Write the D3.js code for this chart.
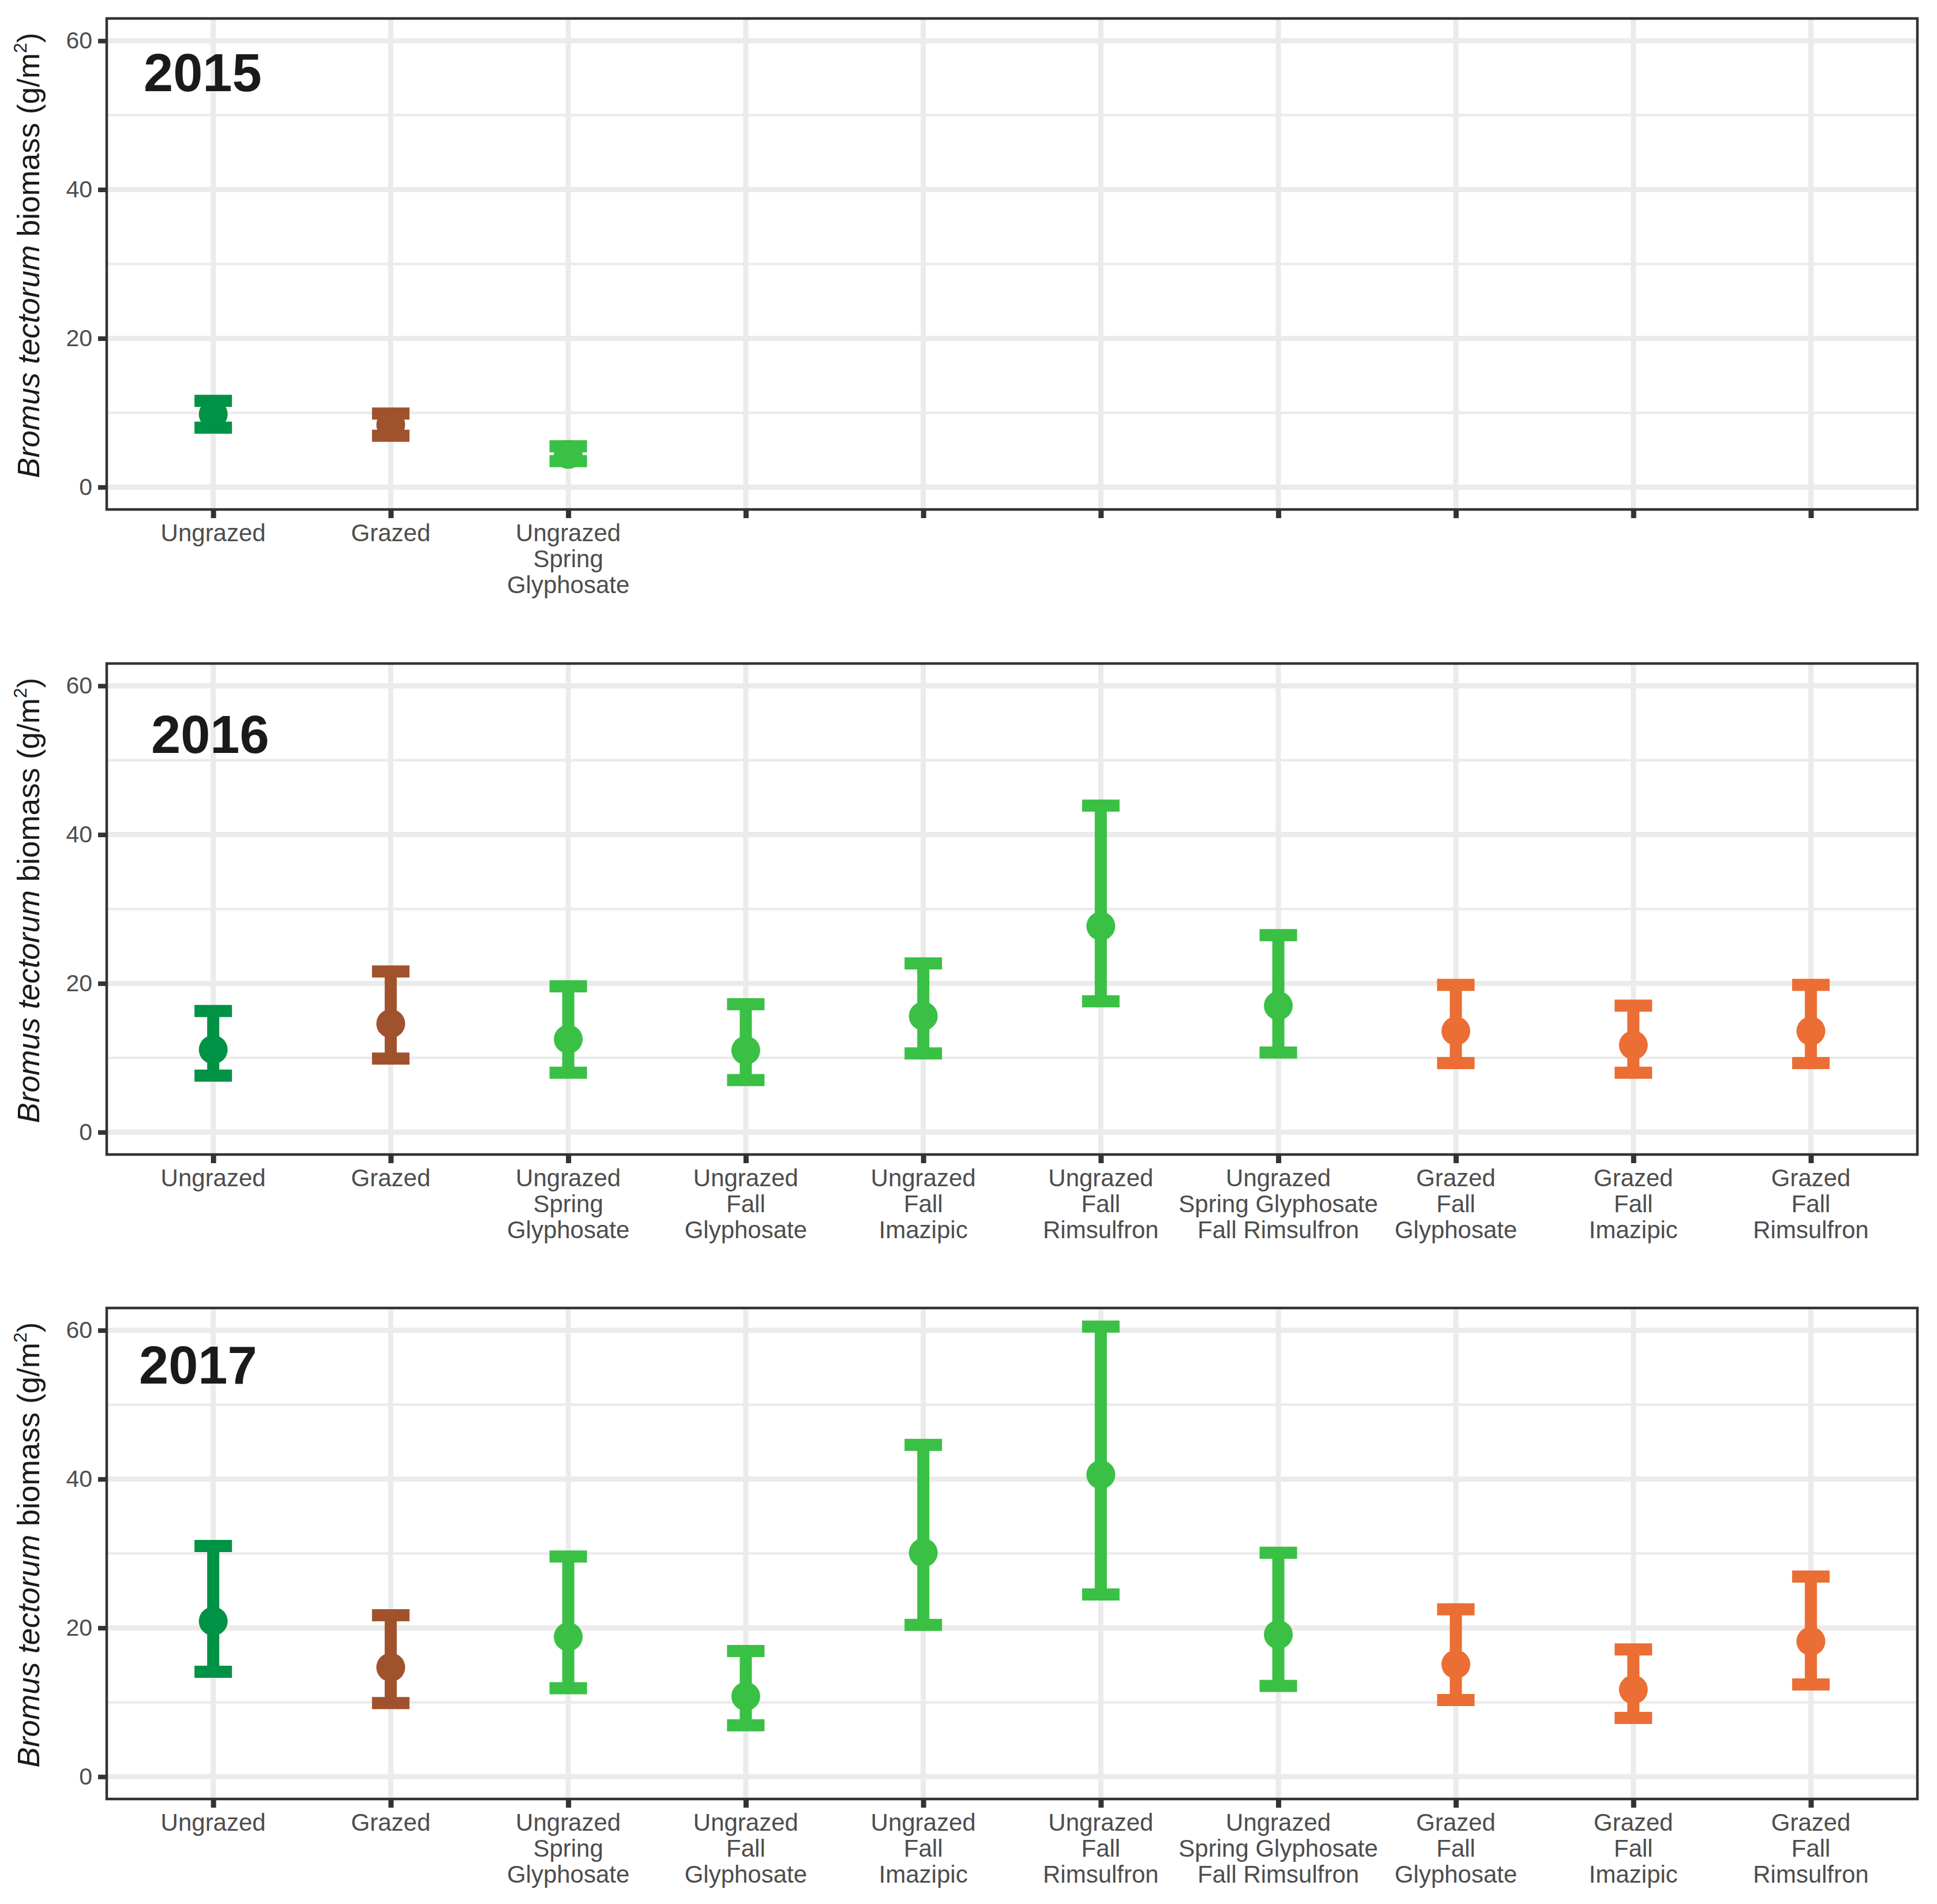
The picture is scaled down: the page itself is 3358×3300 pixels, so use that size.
<!DOCTYPE html>
<html>
<head>
<meta charset="utf-8">
<script src="https://cdn.jsdelivr.net/npm/d3@7"></script>
<style>
  body { margin: 0; background: #fff; }
  text { font-family: "Liberation Sans", Arial, sans-serif; }
</style>
</head>
<body>
<svg id="chart" width="3358" height="3300"></svg>
<script>
// treatments, in plotting order
var categories = [
  ["Ungrazed"],
  ["Grazed"],
  ["Ungrazed", "Spring", "Glyphosate"],
  ["Ungrazed", "Fall", "Glyphosate"],
  ["Ungrazed", "Fall", "Imazipic"],
  ["Ungrazed", "Fall", "Rimsulfron"],
  ["Ungrazed", "Spring Glyphosate", "Fall Rimsulfron"],
  ["Grazed", "Fall", "Glyphosate"],
  ["Grazed", "Fall", "Imazipic"],
  ["Grazed", "Fall", "Rimsulfron"]
];
var groups = ["ungrazed", "grazed", "ungrazedTrt", "ungrazedTrt", "ungrazedTrt",
  "ungrazedTrt", "ungrazedTrt", "grazedTrt", "grazedTrt", "grazedTrt"];
var years = ["2015", "2016", "2017"];
var yTicks = [0, 20, 40, 60];

// means and interval limits (g/m2); 2015 has only the first three treatments
var mean2015 = [9.8, 8.4, 4.4];
var low2015 = [8.0, 6.9, 3.5];
var high2015 = [11.6, 9.9, 5.5];

var mean2016 = [11.1, 14.6, 12.5, 11.0, 15.6, 27.7, 17.0, 13.6, 11.7, 13.6];
var low2016 = [7.6, 9.9, 8.0, 7.0, 10.6, 17.6, 10.7, 9.3, 8.0, 9.3];
var high2016 = [16.3, 21.6, 19.6, 17.2, 22.7, 43.9, 26.5, 19.8, 17.0, 19.8];

var mean2017 = [20.9, 14.7, 18.8, 10.8, 30.1, 40.6, 19.1, 15.1, 11.7, 18.2];
var low2017 = [14.1, 9.9, 11.9, 6.9, 20.4, 24.5, 12.2, 10.3, 7.9, 12.4];
var high2017 = [31.0, 21.7, 29.6, 16.9, 44.6, 60.5, 30.1, 22.5, 17.1, 26.9];

var series = [
  { mean: mean2015, low: low2015, high: high2015 },
  { mean: mean2016, low: low2016, high: high2016 },
  { mean: mean2017, low: low2017, high: high2017 }
];

var colors = {
  ungrazed: "#009245",
  grazed: "#A0522D",
  ungrazedTrt: "#3AC045",
  grazedTrt: "#EB6E34"
};

var svg = d3.select("#chart"),
  left = 185, right = 3324,
  panelTops = [32, 1150, 2267],
  panelH = 851,
  yearPos = [[249, 126], [262, 155], [241, 131]];

var x = d3.scalePoint()
  .domain(d3.range(categories.length))
  .range([left, right])
  .padding(0.6);

panelTops.forEach(function (top, p) {
  var bottom = top + panelH;
  var y = d3.scaleLinear().domain([-3, 63]).range([bottom, top]);
  var g = svg.append("g");
  var s = series[p];

  // grid
  g.selectAll(".minor").data([10, 30, 50]).enter().append("line")
    .attr("x1", left).attr("x2", right)
    .attr("y1", y).attr("y2", y)
    .attr("stroke", "#EBEBEB").attr("stroke-width", 4.5);
  g.selectAll(".major").data(yTicks).enter().append("line")
    .attr("x1", left).attr("x2", right)
    .attr("y1", y).attr("y2", y)
    .attr("stroke", "#EBEBEB").attr("stroke-width", 9);
  g.selectAll(".vgrid").data(x.domain()).enter().append("line")
    .attr("x1", x).attr("x2", x)
    .attr("y1", top).attr("y2", bottom)
    .attr("stroke", "#EBEBEB").attr("stroke-width", 9);

  // error bars
  var idx = d3.range(s.mean.length);
  var bars = g.selectAll(".bar").data(idx).enter().append("g")
    .attr("stroke", function (i) { return colors[groups[i]]; })
    .attr("stroke-width", 21);
  bars.append("line")
    .attr("x1", x).attr("x2", x)
    .attr("y1", function (i) { return y(s.low[i]); })
    .attr("y2", function (i) { return y(s.high[i]); });
  bars.append("line")
    .attr("x1", function (i) { return x(i) - 32.5; })
    .attr("x2", function (i) { return x(i) + 32.5; })
    .attr("y1", function (i) { return y(s.high[i]); })
    .attr("y2", function (i) { return y(s.high[i]); });
  bars.append("line")
    .attr("x1", function (i) { return x(i) - 32.5; })
    .attr("x2", function (i) { return x(i) + 32.5; })
    .attr("y1", function (i) { return y(s.low[i]); })
    .attr("y2", function (i) { return y(s.low[i]); });

  g.selectAll(".pt").data(idx).enter().append("circle")
    .attr("cx", x)
    .attr("cy", function (i) { return y(s.mean[i]); })
    .attr("r", 25)
    .attr("fill", function (i) { return colors[groups[i]]; });

  // border
  g.append("rect")
    .attr("x", left).attr("y", top)
    .attr("width", right - left).attr("height", panelH)
    .attr("fill", "none").attr("stroke", "#333333").attr("stroke-width", 4.5);

  // y axis
  var ya = g.append("g")
    .attr("transform", "translate(" + left + ",0)")
    .call(d3.axisLeft(y).tickValues(yTicks).tickSize(15).tickPadding(10));
  ya.select(".domain").remove();
  ya.selectAll(".tick line").attr("stroke", "#333333").attr("stroke-width", 8);
  ya.selectAll(".tick text")
    .attr("font-size", 41).attr("fill", "#4D4D4D")
    .attr("font-family", "Liberation Sans, Arial, sans-serif");

  // x axis
  var xa = g.append("g")
    .attr("transform", "translate(0," + bottom + ")")
    .call(d3.axisBottom(x).tickSize(15).tickFormat(""));
  xa.select(".domain").remove();
  xa.selectAll(".tick line").attr("stroke", "#333333").attr("stroke-width", 9);
  xa.selectAll(".tick text").remove();

  var labels = g.selectAll(".xlab").data(idx).enter().append("text")
    .attr("text-anchor", "middle")
    .attr("font-size", 42).attr("fill", "#4D4D4D");
  labels.selectAll("tspan")
    .data(function (i) { return categories[i].map(function (t) { return { t: t, i: i }; }); })
    .enter().append("tspan")
    .attr("x", function (d) { return x(d.i); })
    .attr("y", function (d, k) { return bottom + 55 + k * 45; })
    .text(function (d) { return d.t; });

  // year
  g.append("text")
    .attr("x", yearPos[p][0]).attr("y", top + yearPos[p][1])
    .attr("font-size", 92).attr("font-weight", "bold").attr("fill", "#1A1A1A")
    .text(years[p]);

  // y title
  var t = g.append("text")
    .attr("transform", "translate(68," + (top + panelH / 2 - 15) + ") rotate(-90)")
    .attr("text-anchor", "middle")
    .attr("font-size", 53).attr("fill", "#1A1A1A");
  t.append("tspan").attr("font-style", "italic").text("Bromus tectorum");
  t.append("tspan").text(" biomass (g/m");
  t.append("tspan").attr("font-size", 32).attr("dy", -22).text("2");
  t.append("tspan").attr("dy", 22).text(")");
});
</script>
</body>
</html>
